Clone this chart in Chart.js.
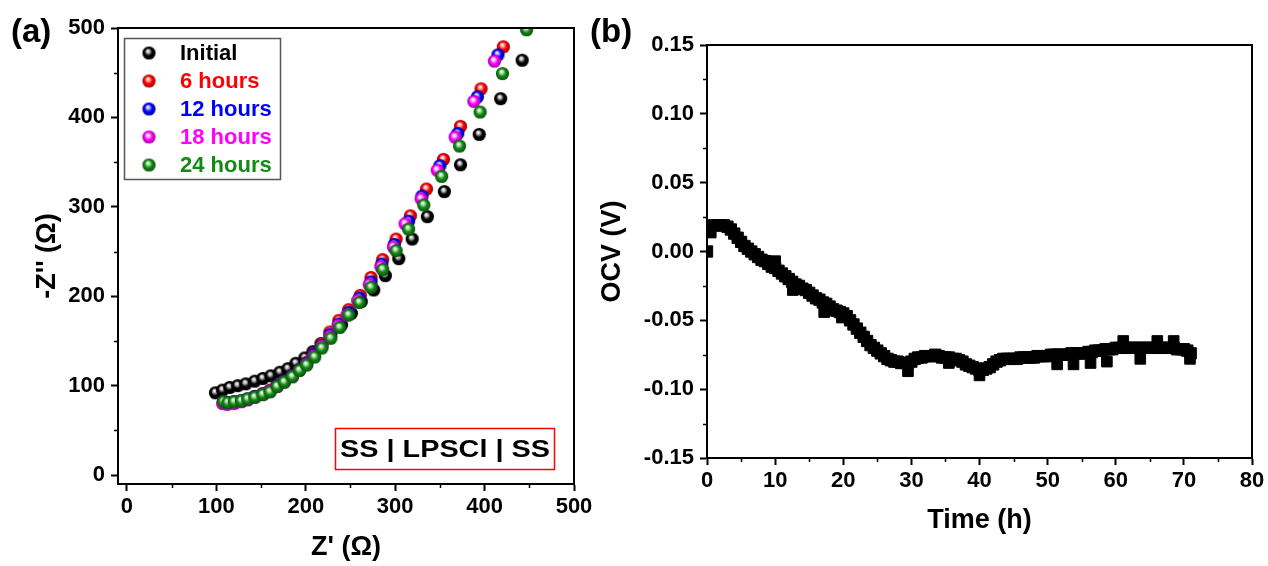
<!DOCTYPE html>
<html><head><meta charset="utf-8">
<script src="https://cdn.jsdelivr.net/npm/chart.js@4.4.1/dist/chart.umd.min.js"></script>
<style>
html,body{margin:0;padding:0;background:#fff;}
body{width:1268px;height:566px;position:relative;overflow:hidden;}
#wa{position:absolute;left:0;top:0;width:634px;height:566px;}
#wb{position:absolute;left:580px;top:0;width:688px;height:566px;}
canvas{display:block;}
</style></head><body>
<div id="wa"><canvas id="ca" width="634" height="566"></canvas></div>
<div id="wb"><canvas id="cb" width="688" height="566"></canvas></div>
<script>
// ---------- Panel (a): EIS data ----------
const seriesLabels = ['Initial', '6 hours', '12 hours', '18 hours', '24 hours'];
const initialZre = [99,107,115,124,133,143,152,161,171,180,189,199,208,217,228,240,251,262,276,289,304,319,336,355,373,394,418,442];
const initialZim = [92,95,98,100,102,105,108,111,115,119,125,131,138,147,157,168,181,194,207,223,242,264,289,317,347,381,421,464];
const h6Zre = [108,113,120,128,135,143,152,160,168,176,185,193,201,209,218,227,237,248,261,273,286,301,317,335,354,373,396,421];
const h6Zim = [82,81,82,83,85,88,91,95,100,105,111,118,126,136,147,160,173,185,201,221,241,264,290,320,353,390,432,479];
const h12Zre = [108,113,120,128,135,143,152,160,168,176,185,193,201,209,218,227,237,248,260,273,285,299,315,330,350,370,392,415];
const h12Zim = [82,81,82,83,85,88,91,94,100,105,111,118,125,135,145,157,169,182,198,216,236,258,284,312,346,382,423,470];
const h18Zre = [107,112,120,128,135,143,152,160,168,176,185,193,201,209,218,227,236,246,258,271,284,298,311,329,347,367,388,411];
const h18Zim = [80,79,80,82,84,87,90,94,99,104,110,117,124,133,144,155,167,179,195,213,233,255,281,309,341,378,418,463];
const h24Zre = [108,113,120,128,135,143,152,160,168,176,185,193,201,210,218,228,238,248,260,273,286,301,315,332,352,372,395,420,447];
const h24Zim = [82,81,82,83,85,87,90,93,99,104,110,117,123,132,142,153,165,179,193,210,230,251,275,302,334,368,406,449,498];
const eisXTicks = [0,100,200,300,400,500];
const eisYTicks = [0,100,200,300,400,500];

// ---------- Panel (b): OCV data ----------
const timeH = [0,0.5,1,1.5,2,2.5,3,3.5,4,4.5,5,5.5,6,6.5,7,7.5,8,8.5,9,9.5,10,10.5,11,11.5,12,12.5,13,13.5,14,14.5,15,15.5,16,16.5,17,17.5,18,18.5,19,19.5,20,20.5,21,21.5,22,22.5,23,23.5,24,24.5,25,25.5,26,26.5,27,27.5,28,28.5,29,29.5,30,30.5,31,31.5,32,32.5,33,33.5,34,34.5,35,35.5,36,36.5,37,37.5,38,38.5,39,39.5,40,40.5,41,41.5,42,42.5,43,43.5,44,44.5,45,45.5,46,46.5,47,47.5,48,48.5,49,49.5,50,50.5,51,51.5,52,52.5,53,53.5,54,54.5,55,55.5,56,56.5,57,57.5,58,58.5,59,59.5,60,60.5,61,61.5,62,62.5,63,63.5,64,64.5,65,65.5,66,66.5,67,67.5,68,68.5,69,69.5,70,70.5,71];
const ocvV = [0.000,0.014,0.019,0.019,0.019,0.019,0.018,0.016,0.013,0.010,0.007,0.004,0.002,0.000,-0.002,-0.004,-0.006,-0.007,-0.009,-0.011,-0.012,-0.014,-0.016,-0.018,-0.020,-0.022,-0.024,-0.025,-0.027,-0.028,-0.030,-0.032,-0.034,-0.035,-0.037,-0.038,-0.040,-0.042,-0.043,-0.044,-0.045,-0.047,-0.050,-0.053,-0.056,-0.059,-0.062,-0.065,-0.068,-0.070,-0.072,-0.074,-0.076,-0.078,-0.079,-0.080,-0.080,-0.081,-0.081,-0.081,-0.080,-0.078,-0.077,-0.077,-0.076,-0.076,-0.076,-0.075,-0.076,-0.077,-0.077,-0.077,-0.078,-0.078,-0.079,-0.080,-0.082,-0.083,-0.084,-0.085,-0.086,-0.086,-0.085,-0.084,-0.082,-0.080,-0.079,-0.078,-0.078,-0.078,-0.078,-0.078,-0.077,-0.077,-0.077,-0.077,-0.077,-0.076,-0.076,-0.076,-0.076,-0.075,-0.075,-0.075,-0.075,-0.075,-0.075,-0.074,-0.074,-0.074,-0.074,-0.074,-0.073,-0.073,-0.072,-0.072,-0.072,-0.071,-0.071,-0.071,-0.070,-0.070,-0.070,-0.070,-0.070,-0.070,-0.070,-0.070,-0.070,-0.070,-0.070,-0.070,-0.070,-0.070,-0.070,-0.070,-0.070,-0.070,-0.071,-0.071,-0.071,-0.072,-0.074];
const spikeTimeH = [10.0,12.6,17.2,19.8,29.5,35.5,40.0,51.4,53.8,56.3,58.7,61.1,63.6,66.1,68.5,70.9];
const spikeOcvV = [-0.007,-0.028,-0.044,-0.048,-0.087,-0.081,-0.090,-0.082,-0.082,-0.081,-0.080,-0.065,-0.078,-0.065,-0.065,-0.078];
const ocvXTicks = [0,10,20,30,40,50,60,70,80];
const ocvYTicks = [-0.15,-0.10,-0.05,0.00,0.05,0.10,0.15];

// ---------- helpers ----------
const FAM = "'Liberation Sans', Arial, Helvetica, sans-serif";
const colors = [
  {base:'#000000', light:'#bbbbbb', dark:'#000000'},
  {base:'#ff0000', light:'#ffb0b0', dark:'#a00000'},
  {base:'#0000ff', light:'#b0b0ff', dark:'#0000a0'},
  {base:'#ff00ff', light:'#ffc0ff', dark:'#a000a0'},
  {base:'#138a13', light:'#b0e0b0', dark:'#0a500a'}
];
const textColors = ['#000000','#ff0000','#0000ff','#ff00ff','#138a13'];
function ball(c){
  const s = 15, r = 6.6;
  const cv = document.createElement('canvas'); cv.width = s; cv.height = s;
  const g = cv.getContext('2d');
  const gr = g.createRadialGradient(s/2-1.2, s/2-2.2, 0.3, s/2, s/2, r);
  gr.addColorStop(0, '#ffffff');
  gr.addColorStop(0.22, c.light);
  gr.addColorStop(0.55, c.base);
  gr.addColorStop(1, c.dark);
  g.fillStyle = gr;
  g.beginPath(); g.arc(s/2, s/2, r, 0, Math.PI*2); g.fill();
  return cv;
}
const balls = colors.map(ball);
function pts(xs, ys){ return xs.map((x,i)=>({x:x, y:ys[i]})); }
function tickFont(){ return {family:FAM, size:22, weight:'bold'}; }
function titleFont(){ return {family:FAM, size:27, weight:'bold'}; }

const framePlugin = {
  id:'frame',
  afterDraw(chart, args, opts){
    const ctx = chart.ctx, a = chart.chartArea;
    const xs = chart.scales.x, ys = chart.scales.y;
    ctx.save();
    ctx.strokeStyle = '#000';
    ctx.lineWidth = 2;
    ctx.beginPath();
    ctx.moveTo(a.left, a.top); ctx.lineTo(a.right, a.top); ctx.lineTo(a.right, a.bottom);
    ctx.stroke();
    ctx.lineWidth = 1.5;
    ctx.beginPath();
    (opts.xMinor||[]).forEach(v=>{ const p = Math.round(xs.getPixelForValue(v))+0.5; ctx.moveTo(p, a.bottom); ctx.lineTo(p, a.bottom+4); });
    (opts.yMinor||[]).forEach(v=>{ const p = Math.round(ys.getPixelForValue(v))+0.5; ctx.moveTo(a.left, p); ctx.lineTo(a.left-4, p); });
    ctx.stroke();
    ctx.restore();
  }
};

const annotA = {
  id:'annotA',
  afterDraw(chart){
    const ctx = chart.ctx;
    ctx.save();
    ctx.fillStyle = '#000';
    ctx.font = 'bold 33px ' + FAM;
    ctx.textBaseline = 'alphabetic';
    ctx.fillText('(a)', 11, 42);
    // legend
    ctx.strokeStyle = '#555'; ctx.lineWidth = 1.5;
    ctx.strokeRect(124.5, 38.5, 156, 141);
    ctx.font = 'bold 22px ' + FAM;
    ctx.textBaseline = 'middle';
    chart.data.datasets.forEach((d,i)=>{
      const y = 53 + 28*i;
      ctx.drawImage(balls[i], 149-7.5, y-7.5);
      ctx.fillStyle = textColors[i];
      ctx.fillText(d.label, 180, y+1);
    });
    // cell annotation
    ctx.strokeStyle = '#ff0000'; ctx.lineWidth = 1.5;
    ctx.strokeRect(335.5, 428.5, 219, 41);
    ctx.fillStyle = '#000';
    ctx.font = 'bold 24px ' + FAM;
    ctx.textAlign = 'center';
    ctx.translate(445, 450);
    ctx.scale(1.2, 1);
    ctx.fillText('SS | LPSCl | SS', 0, 0);
    ctx.restore();
  }
};
const annotB = {
  id:'annotB',
  afterDraw(chart){
    const ctx = chart.ctx;
    ctx.save();
    ctx.fillStyle = '#000';
    ctx.font = 'bold 33px ' + FAM;
    ctx.textBaseline = 'alphabetic';
    ctx.fillText('(b)', 10, 42);
    ctx.restore();
  }
};

const eisX = [initialZre,h6Zre,h12Zre,h18Zre,h24Zre];
const eisY = [initialZim,h6Zim,h12Zim,h18Zim,h24Zim];

new Chart(document.getElementById('ca'), {
  type:'scatter',
  data:{ datasets: seriesLabels.map((lab,i)=>({
    label: lab,
    data: pts(eisX[i], eisY[i]),
    pointStyle: balls[i],
    pointRadius: 7,
    backgroundColor: colors[i].base,
    borderColor: colors[i].base,
    order: 5 - i
  }))},
  options:{
    responsive:false, animation:false, devicePixelRatio:1,
    layout:{padding:{left:0, top:28, right:60, bottom:0}},
    plugins:{legend:{display:false}, tooltip:{enabled:false},
      frame:{xMinor:[50,150,250,350,450], yMinor:[50,150,250,350,450]}},
    scales:{
      x:{type:'linear', min:-10, max:500,
        afterBuildTicks:s=>{ s.ticks = eisXTicks.map(v=>({value:v})); },
        afterFit:s=>{ s.height = 82; },
        ticks:{font:tickFont(), color:'#000', padding:3, maxRotation:0, autoSkip:false},
        grid:{drawOnChartArea:false, drawTicks:true, tickLength:7, tickWidth:2, tickColor:'#000'},
        border:{display:true, color:'#000', width:2},
        title:{display:true, text:"Z' (Ω)", font:titleFont(), color:'#000', padding:{top:0, bottom:1.8}}
      },
      y:{type:'linear', min:-10, max:500,
        afterBuildTicks:s=>{ s.ticks = eisYTicks.map(v=>({value:v})); },
        afterFit:s=>{ s.width = 118; },
        ticks:{font:tickFont(), color:'#000', padding:6, autoSkip:false},
        grid:{drawOnChartArea:false, drawTicks:true, tickLength:7, tickWidth:2, tickColor:'#000'},
        border:{display:true, color:'#000', width:2},
        title:{display:true, text:"-Z'' (Ω)", font:titleFont(), color:'#000', padding:{top:31.8, bottom:0}}
      }
    }
  },
  plugins:[framePlugin, annotA]
});

new Chart(document.getElementById('cb'), {
  type:'scatter',
  data:{ datasets:[
    {label:'OCV', data: pts(timeH, ocvV), pointStyle:'rect', pointRadius:8, pointBorderWidth:1, backgroundColor:'#000', borderColor:'#000'},
    {label:'OCV spikes', data: pts(spikeTimeH, spikeOcvV), pointStyle:'rect', pointRadius:7.5, pointBorderWidth:1, backgroundColor:'#000', borderColor:'#000'}
  ]},
  options:{
    responsive:false, animation:false, devicePixelRatio:1,
    layout:{padding:{left:0, top:45, right:16, bottom:0}},
    plugins:{legend:{display:false}, tooltip:{enabled:false},
      frame:{xMinor:[5,15,25,35,45,55,65,75], yMinor:[-0.125,-0.075,-0.025,0.025,0.075,0.125]}},
    scales:{
      x:{type:'linear', min:0, max:80,
        afterBuildTicks:s=>{ s.ticks = ocvXTicks.map(v=>({value:v})); },
        afterFit:s=>{ s.height = 108; },
        ticks:{font:tickFont(), color:'#000', padding:3, maxRotation:0, autoSkip:false},
        grid:{drawOnChartArea:false, drawTicks:true, tickLength:7, tickWidth:2, tickColor:'#000'},
        border:{display:true, color:'#000', width:2},
        title:{display:true, text:'Time (h)', font:titleFont(), color:'#000', padding:{top:0, bottom:28.8}}
      },
      y:{type:'linear', min:-0.15, max:0.15,
        afterBuildTicks:s=>{ s.ticks = ocvYTicks.map(v=>({value:v})); },
        afterFit:s=>{ s.width = 127; },
        ticks:{font:tickFont(), color:'#000', padding:6, autoSkip:false, callback:v=>Number(v).toFixed(2)},
        grid:{drawOnChartArea:false, drawTicks:true, tickLength:7, tickWidth:2, tickColor:'#000'},
        border:{display:true, color:'#000', width:2},
        title:{display:true, text:'OCV (V)', font:titleFont(), color:'#000', padding:{top:16.8, bottom:0}}
      }
    }
  },
  plugins:[framePlugin, annotB]
});
</script>
</body></html>
